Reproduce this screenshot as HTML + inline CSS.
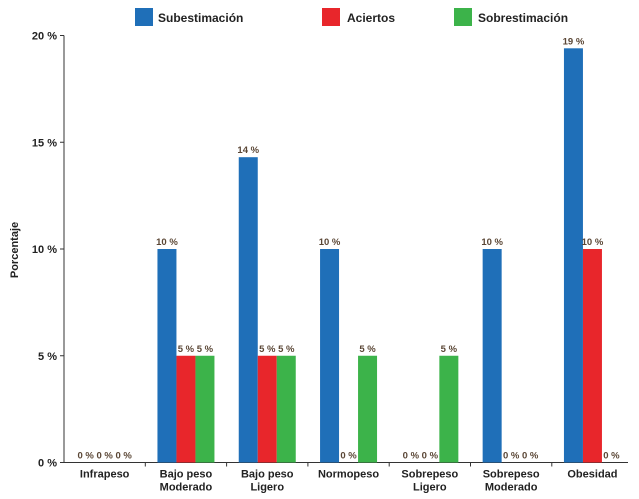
<!DOCTYPE html>
<html><head><meta charset="utf-8"><style>
body{margin:0;background:#fff;}
svg{font-family:"Liberation Sans",sans-serif;}
</style></head><body>
<svg width="639" height="494" xmlns="http://www.w3.org/2000/svg">
<g id="legend">
 <rect x="135" y="8" width="18" height="18" fill="#1f6fb8"/>
 <text x="158" y="22" font-size="12" font-weight="bold" fill="#222">Subestimación</text>
 <rect x="322" y="8" width="18" height="18" fill="#e8262b"/>
 <text x="347" y="22" font-size="12" font-weight="bold" fill="#222">Aciertos</text>
 <rect x="454" y="8" width="18" height="18" fill="#3cb34a"/>
 <text x="478" y="22" font-size="12" font-weight="bold" fill="#222">Sobrestimación</text>
</g>
<text transform="translate(18,250) rotate(-90)" text-anchor="middle" font-size="11" font-weight="bold" fill="#222">Porcentaje</text>
<g id="plot"></g>
</svg>
<script>
const categories=[["Infrapeso"],["Bajo peso","Moderado"],["Bajo peso","Ligero"],["Normopeso"],["Sobrepeso","Ligero"],["Sobrepeso","Moderado"],["Obesidad"]];
const subValues=[0,10,14.3,10,0,10,19.4];
const aciValues=[0,5,5,0,0,0,10];
const sobValues=[0,5,5,5,5,0,0];
const yTicks=[0,5,10,15,20];
const NS="http://www.w3.org/2000/svg";
const g=document.getElementById('plot');
const x0=64,band=81.3,y0=462.5,yTop=35.5,yMax=20,bw=19;
const y=v=>y0-(v/yMax)*(y0-yTop);
const xc=i=>x0+band*(i+0.5);
function mk(t,a){const e=document.createElementNS(NS,t);for(const k in a)e.setAttribute(k,a[k]);g.appendChild(e);return e;}
// axes
let ax=mk('path',{d:`M${x0},${yTop} V${y0} H628`,stroke:'#333','stroke-width':1,fill:'none'});


yTicks.forEach(t=>{
 const l=mk('line',{x1:x0-4,x2:x0,y1:y(t),y2:y(t),stroke:'#333'});
 
 
 const tx=mk('text',{x:x0-7,y:y(t)+4,'text-anchor':'end','font-size':11,'font-weight':'bold',fill:'#222'});
 tx.textContent=t+' %';
 
 
});
const series=[[subValues,'#1f6fb8','sub'],[aciValues,'#e8262b','aci'],[sobValues,'#3cb34a','sob']];
categories.forEach((c,i)=>{
 if(i>0){const t=mk('line',{x1:x0+band*i,x2:x0+band*i,y1:y0,y2:y0+4,stroke:'#333'});
 
 }
 c.forEach((s,j)=>{const tx=mk('text',{x:xc(i),y:y0+15+j*13,'text-anchor':'middle','font-size':11,'font-weight':'bold',fill:'#222'});
 tx.textContent=s;
 
 });
 series.forEach(([vals,col,nm],k)=>{
  const bx=xc(i)+(k-1.5)*bw;
  const v=vals[i];
  const r=mk('rect',{x:bx,y:y(v),width:bw,height:y0-y(v),fill:col});
  
  
  const tx=mk('text',{x:bx+bw/2,y:y(v)-4,'text-anchor':'middle','font-size':9.5,'font-weight':'bold',fill:'#5a4635'});
  tx.textContent=Math.round(v)+' %';
  
  
 });
});
</script>
</body></html>
